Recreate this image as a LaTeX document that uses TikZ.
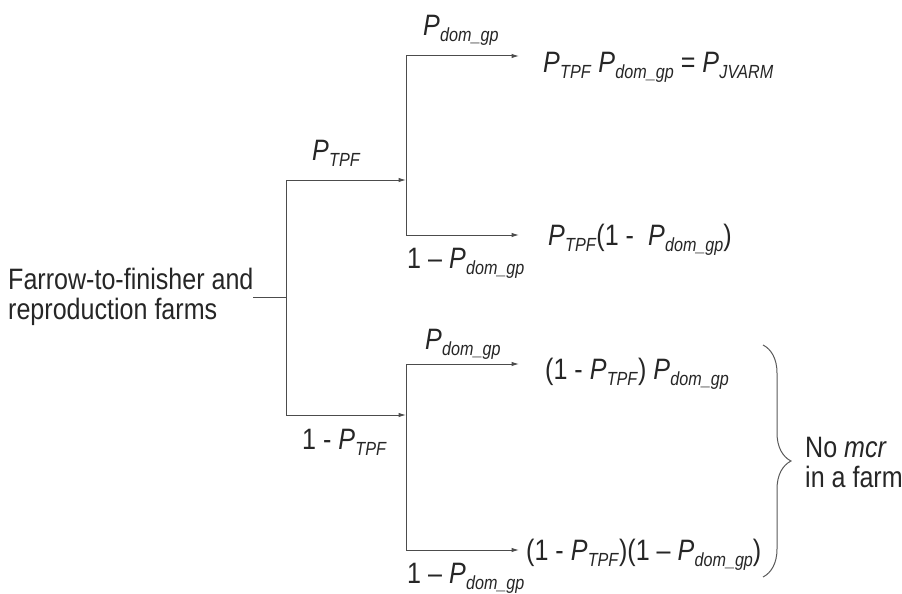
\documentclass[tikz,border=0pt]{standalone}
\usepackage{fontspec}
\setmainfont[FakeStretch=0.85]{Liberation Sans}
\usetikzlibrary{arrows.meta,decorations.pathreplacing}

% probability symbol with an italic subscript
\newcommand\Pv[1]{\textit{P}\kern0.3pt\raisebox{-6pt}{\fontsize{19}{19}\selectfont\textit{#1}}}

\begin{document}
\begin{tikzpicture}[x=1pt,y=-1pt,
  txt/.style={inner sep=0pt,anchor=west,text=black!85,font=\fontsize{29.5}{30}\selectfont},
  edge/.style={draw=black!70,line width=1pt},
  branch/.style={edge,-{Latex[length=7.5pt,width=4.5pt]}},
  bracket/.style={draw=black!65,line width=1pt,decorate,decoration={brace,amplitude=28pt}}]
\useasboundingbox (0,0) rectangle (902,594);

% root
\node[txt,align=left] (root) at (8,297) {Farrow-to-finisher and\\reproduction farms};

% junctions
\coordinate (r0) at (253,297);
\coordinate (a0) at (286,297);
\coordinate (a1) at (286,180);
\coordinate (a2) at (286,415);
\coordinate (b1) at (406,180);
\coordinate (b2) at (406,415);
\coordinate (b1t) at (406,56);
\coordinate (b1b) at (406,235);
\coordinate (b2t) at (406,364);
\coordinate (b2b) at (406,550);
\coordinate (e1) at (519,56);
\coordinate (e2) at (519,235);
\coordinate (e3) at (519,364);
\coordinate (e4) at (519,550);

% tree
\draw[edge] (r0) -- (a0);
\draw[edge] (a1) -- (a2);
\draw[branch] (a1) -- (b1);
\draw[branch] (a2) -- (b2);
\draw[edge] (b1t) -- (b1b);
\draw[edge] (b2t) -- (b2b);
\draw[branch] (b1t) -- (e1);
\draw[branch] (b1b) -- (e2);
\draw[branch] (b2t) -- (e3);
\draw[branch] (b2b) -- (e4);

% branch probabilities
\node[txt] (pT)  at (312,153) {\Pv{TPF}};
\node[txt] (nT)  at (302,442) {1 - \Pv{TPF}};
\node[txt] (pD1) at (423,30)  {\Pv{dom\_gp}};
\node[txt] (nD1) at (407,263) {1 – \Pv{dom\_gp}};
\node[txt] (pD2) at (425,344) {\Pv{dom\_gp}};
\node[txt] (nD2) at (407,578) {1 – \Pv{dom\_gp}};

% outcomes
\node[txt] (o1) at (543,67)  {\Pv{TPF} \Pv{dom\_gp} = \Pv{JVARM}};
\node[txt] (o2) at (548,240) {\Pv{TPF}(1 -\ \ \Pv{dom\_gp})};
\node[txt] (o3) at (545,374) {(1 - \Pv{TPF}) \Pv{dom\_gp}};
\node[txt] (o4) at (526,555) {(1 - \Pv{TPF})(1 – \Pv{dom\_gp})};

% grouping of the two lower outcomes
\coordinate (g1) at (763,345);
\coordinate (g2) at (763,577);
\draw[bracket] (g1) -- (g2);
\node[txt,align=left] (nomcr) at (805,462) {No \textit{mcr}\\in a farm};
\end{tikzpicture}
\end{document}
